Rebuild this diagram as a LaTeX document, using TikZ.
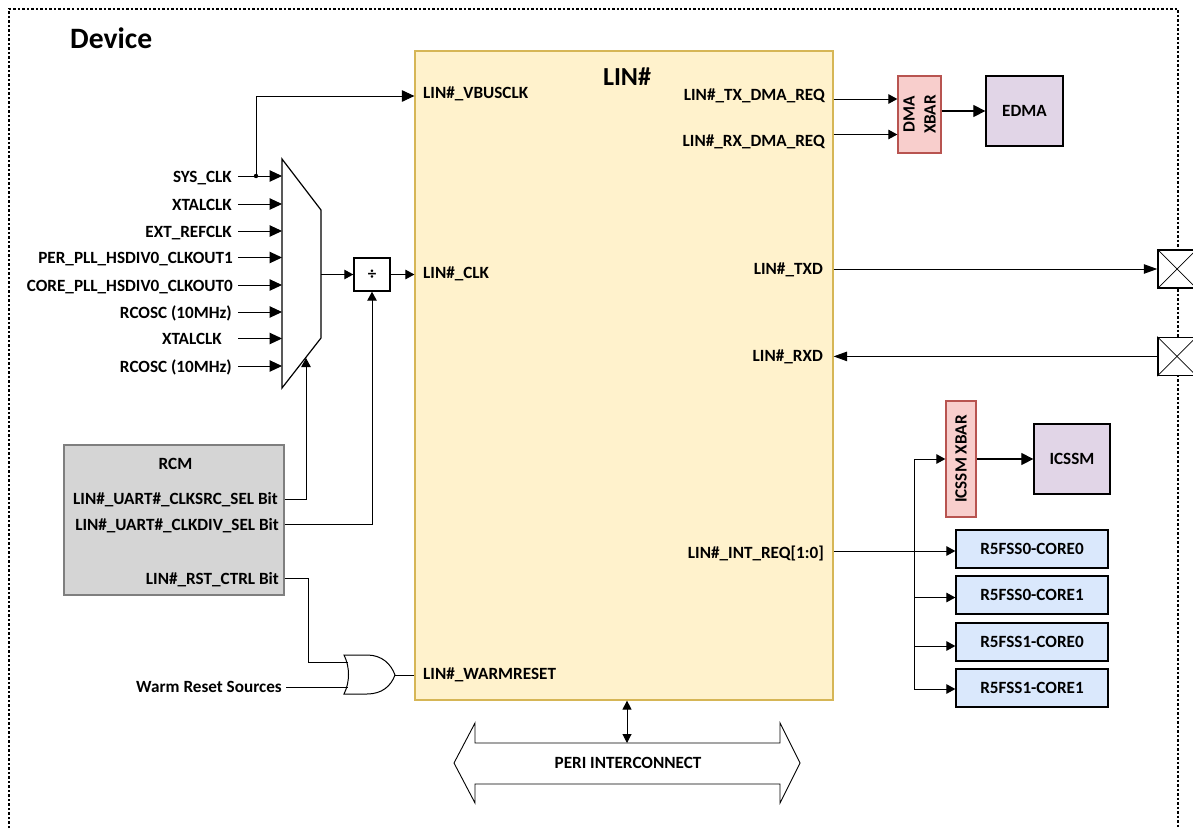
\documentclass[tikz,border=0pt]{standalone}
\usepackage{fontspec}
\setmainfont{Carlito}
\usetikzlibrary{arrows.meta, positioning, calc}
\definecolor{linfill}{HTML}{FFF2CC}
\definecolor{linedge}{HTML}{D6B656}
\definecolor{xbarfill}{HTML}{F8CECC}
\definecolor{xbaredge}{HTML}{B85450}
\definecolor{subfill}{HTML}{E1D5E7}
\definecolor{corefill}{HTML}{DAE8FC}
\definecolor{rcmfill}{HTML}{D5D5D5}
\definecolor{rcmedge}{HTML}{7F7F7F}
\tikzset{
  lbl/.style={inner sep=0pt, text height=10.8pt, text depth=0pt, font=\bfseries\fontsize{17.15}{21}\selectfont},
  block/.style={rectangle, draw, inner sep=0pt, line width=1.3pt, font=\bfseries\fontsize{17.15}{21}\selectfont},
  xbar/.style={block, fill=xbarfill, draw=xbaredge, rotate=90, align=center},
  subsys/.style={block, fill=subfill, minimum width=77pt, minimum height=70pt},
  core/.style={block, fill=corefill, minimum width=152pt, minimum height=38pt},
  pad/.style={rectangle, draw, fill=white, line width=1.5pt, minimum width=38pt, minimum height=38pt, inner sep=0pt},
  arrow/.style={-{Triangle[length=12.5pt, width=11.5pt]}, line width=1pt},
  longarrow/.style={-{Triangle[length=13.5pt, width=9.5pt]}, line width=1pt},
  bigarrow/.style={-{Triangle[length=12pt, width=12pt]}, line width=1.2pt},
  smallarrow/.style={-{Triangle[length=9pt, width=9.5pt]}, line width=1pt},
  darrow/.style={{Triangle[length=9pt, width=9pt]}-{Triangle[length=9pt, width=9pt]}, line width=1pt},
  wire/.style={line width=1pt},
}

\begin{document}
\begin{tikzpicture}[x=1pt, y=-1pt]
  \clip (0,0) rectangle (1193,828);

  % Device outline
  \draw[line width=2pt, dash pattern=on 2.5pt off 2pt] (9,828) -- (9,9) -- (1178,9) -- (1178,828);
  \node[inner sep=0pt, anchor=west, font=\bfseries\fontsize{29.6}{34}\selectfont] (device) at (70,38) {Device};

  % LIN block
  \node[rectangle, draw=linedge, fill=linfill, line width=1.2pt, minimum width=418pt, minimum height=649pt, inner sep=0pt] (lin) at (624,375.5) {};
  \node[inner sep=0pt, font=\bfseries\fontsize{26}{30}\selectfont] (lintitle) at (627,77) {LIN\#};
  \node[lbl, anchor=west] (vbusclk) at (423,93) {LIN\#\_VBUSCLK};
  \node[lbl, anchor=west] (linclk) at (423,273.5) {LIN\#\_CLK};
  \node[lbl, anchor=west] (warmreset) at (423,674) {LIN\#\_WARMRESET};
  \node[lbl, anchor=east] (txdma) at (825,95.5) {LIN\#\_TX\_DMA\_REQ};
  \node[lbl, anchor=east] (rxdma) at (825,140.7) {LIN\#\_RX\_DMA\_REQ};
  \node[lbl, anchor=east] (txd) at (823,269.3) {LIN\#\_TXD};
  \node[lbl, anchor=east] (rxd) at (823,355.7) {LIN\#\_RXD};
  \node[lbl, anchor=east] (intreq) at (824,553.3) {LIN\#\_INT\_REQ[1:0]};

  % Clock mux
  \draw[line width=1.2pt] (282,159) -- (321,210) -- (321,338) -- (282,388) -- cycle;
  \foreach \n/\y/\e/\t in {a/176/232/SYS\_CLK, b/204/232/XTALCLK, c/231/232/EXT\_REFCLK, d/257.5/233/PER\_PLL\_HSDIV0\_CLKOUT1, e/285/233/CORE\_PLL\_HSDIV0\_CLKOUT0, f/312/232/RCOSC (10MHz), g/338.5/222/XTALCLK, h/366/232/RCOSC (10MHz)} {
    \node[lbl, anchor=east] (src\n) at (\e,\y+0.6) {\t};
    \coordinate (from\n) at (238,\y);
    \coordinate (mux\n) at (282,\y);
    \draw[arrow] (from\n) -- (mux\n);
  }
  \coordinate (muxout) at (321,274.5);
  \coordinate (muxsel) at (306,358);
  \coordinate (tap) at (256,176);
  \fill (tap) circle (2.2pt);

  % Divider
  \node[rectangle, draw, line width=1.4pt, minimum width=36pt, minimum height=33pt, inner sep=0pt, font=\bfseries\fontsize{17}{21}\selectfont] (div) at (372,274.5) {÷};
  \draw[smallarrow] (muxout) -- (div.west);
  \draw[smallarrow] (div.east) -- (div.east -| lin.west);
  \draw[arrow] (tap) |- (lin.west |- 0,96);

  % RCM
  \node[rectangle, draw=rcmedge, fill=rcmfill, line width=1.2pt, minimum width=220pt, minimum height=150pt, inner sep=0pt] (rcm) at (174,520) {};
  \node[lbl] (rcmtitle) at (175.5,463.7) {RCM};
  \node[lbl, anchor=east] (clksrc) at (278,499.5) {LIN\#\_UART\#\_CLKSRC\_SEL Bit};
  \node[lbl, anchor=east] (clkdiv) at (279,524.7) {LIN\#\_UART\#\_CLKDIV\_SEL Bit};
  \node[lbl, anchor=east] (rstctrl) at (279,578.7) {LIN\#\_RST\_CTRL Bit};
  \draw[smallarrow] (rcm.east |- 0,499) -| (muxsel);
  \draw[smallarrow] (rcm.east |- 0,524) -| (div.south);

  % Warm reset gate
  \draw[line width=1pt] (344,655) -- (367,655) .. controls (382,655) and (391,664) .. (395,675)
    .. controls (391,686) and (382,694) .. (367,694) -- (344,694)
    .. controls (350,682) and (350,667) .. (344,655) -- cycle;
  \coordinate (orin) at (347.5,662.5);
  \coordinate (orwarm) at (347.5,687);
  \coordinate (orout) at (395,675);
  \node[lbl, anchor=east] (warmsrc) at (282,686.7) {Warm Reset Sources};
  \coordinate (warmfrom) at (286,687);
  \draw[wire] (warmfrom) -- (orwarm);
  \draw[wire] (orout) -- (orout -| lin.west);
  \draw[wire] (rcm.east |- 0,578) -- (308,578) |- (orin);

  % DMA
  \node[xbar, minimum width=77pt, minimum height=43pt] (dmaxbar) at (919.5,114.5) {DMA\\XBAR};
  \node[subsys] (edma) at (1024.5,111) {EDMA};
  \draw[smallarrow] (lin.east |- 0,99) -- (dmaxbar.north |- 0,99);
  \draw[smallarrow] (lin.east |- 0,134.5) -- (dmaxbar.north |- 0,134.5);
  \draw[bigarrow] (dmaxbar.south |- edma) -- (edma.west);

  % Pads
  \node[pad] (padtx) at (1177,269) {};
  \node[pad] (padrx) at (1177,356.4) {};
  \foreach \p in {padtx, padrx} {
    \draw[line width=0.7pt] (\p.north west) -- (\p.south east);
    \draw[line width=0.7pt] (\p.south west) -- (\p.north east);
  }
  \draw[longarrow] (lin.east |- padtx) -- (padtx.west);
  \draw[longarrow] (padrx.west) -- (lin.east |- padrx);

  % ICSSM
  \node[xbar, minimum width=116pt, minimum height=30pt] (icssmxbar) at (961,459) {ICSSM XBAR};
  \node[subsys, minimum width=76pt] (icssm) at (1072,459) {ICSSM};
  \draw[bigarrow] (icssmxbar.south) -- (icssm.west);

  % Cores
  \node[core] (core0) at (1032,549) {R5FSS0-CORE0};
  \node[core] (core1) at (1032,595) {R5FSS0-CORE1};
  \node[core] (core2) at (1032,642) {R5FSS1-CORE0};
  \node[core] (core3) at (1032,688) {R5FSS1-CORE1};
  \coordinate (trunktop) at (914,459);
  \coordinate (trunkbot) at (914,689);
  \draw[wire] (trunktop) -- (trunkbot);
  \draw[smallarrow] (trunktop) -- (icssmxbar.north);
  \draw[smallarrow] (lin.east |- 0,551) -- (core0.west |- 0,551);
  \draw[smallarrow] (trunktop |- 0,597.5) -- (core1.west |- 0,597.5);
  \draw[smallarrow] (trunktop |- 0,646) -- (core2.west |- 0,646);
  \draw[smallarrow] (trunkbot) -- (core3.west |- trunkbot);

  % Interconnect
  \draw[line width=0.9pt] (454,763) -- (475,723) -- (475,743) -- (780,743) -- (780,723) -- (800,763)
    -- (780,803) -- (780,784) -- (475,784) -- (475,803) -- cycle;
  \node[lbl] (peri) at (628,763.3) {PERI INTERCONNECT};
  \coordinate (periport) at (627,743);
  \draw[darrow] (periport |- lin.south) -- (periport);
\end{tikzpicture}
\end{document}
